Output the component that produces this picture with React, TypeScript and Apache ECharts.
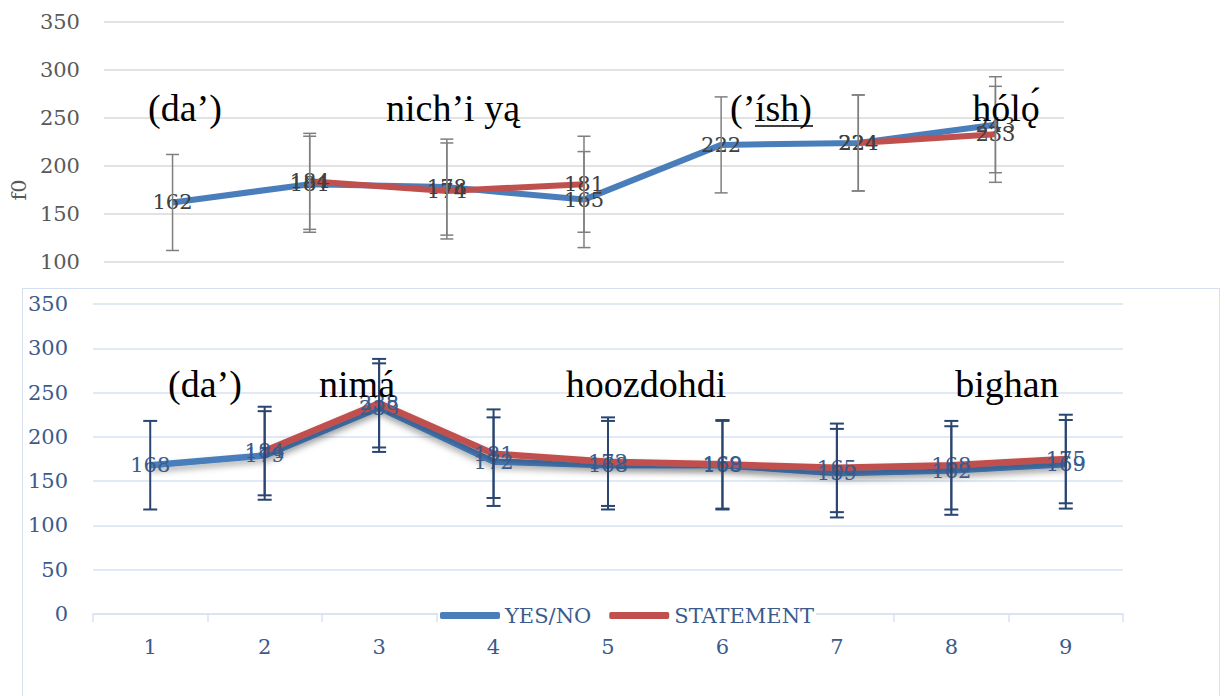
import React, { useEffect, useRef } from "react";
import * as echarts from "echarts";

// f0 means per syllable position, two intonation conditions
const upperPositions = ["1", "2", "3", "4", "5", "6", "7"];
const upperYesNo = [162, 181, 178, 165, 222, 224, 243];
const upperStatement = [null, 184, 174, 181, null, 224, 233];

const lowerPositions = ["1", "2", "3", "4", "5", "6", "7", "8", "9"];
const lowerYesNo = [168, 179, 233, 172, 168, 168, 159, 162, 169];
const lowerStatement = [null, 184, 238, 181, 172, 169, 165, 168, 175];

// fixed ± error bar size (Hz)
const ERROR_MARGIN = 50;

const yTicks = { min: 0, max: 350, interval: 50 };
const seriesNames = ["YES/NO", "STATEMENT"];

// Navajo words written over each contour
const upperWords = ["(da’)", "nich’i yą", "(’", "ísh)", "hólǫ́"];
const lowerWords = ["(da’)", "nimá", "hoozdohdi", "bighan"];

const BLUE = "#4a7ebb";
const RED = "#c0504d";
const LABEL_FONT = '"DejaVu Serif", "Liberation Serif", serif';
const WORD_FONT = '"Liberation Serif", "Times New Roman", serif';
const LABEL_SIZE = 21;

function errorBars(name: string, values: (number | null)[], color: string, capHalf: number, width: number) {
  const points: number[][] = [];
  values.forEach((v, i) => {
    if (v != null) points.push([i, v]);
  });
  return {
    name,
    type: "custom",
    z: 3,
    silent: true,
    data: points,
    encode: { x: 0, y: 1 },
    renderItem: (_params: any, api: any) => {
      const i = api.value(0);
      const v = api.value(1);
      const hi = api.coord([i, v + ERROR_MARGIN]);
      const lo = api.coord([i, v - ERROR_MARGIN]);
      const style = { stroke: color, lineWidth: width };
      return {
        type: "group",
        children: [
          { type: "line", shape: { x1: hi[0], y1: hi[1], x2: lo[0], y2: lo[1] }, style },
          { type: "line", shape: { x1: hi[0] - capHalf, y1: hi[1], x2: hi[0] + capHalf, y2: hi[1] }, style },
          { type: "line", shape: { x1: lo[0] - capHalf, y1: lo[1], x2: lo[0] + capHalf, y2: lo[1] }, style },
        ],
      };
    },
  };
}

function lineSeries(name: string, values: (number | null)[], color: string, width: number, labelColor: string, shadow: boolean) {
  return {
    name,
    type: "line",
    z: 2,
    data: values,
    connectNulls: false,
    symbol: "circle",
    symbolSize: 0,
    showSymbol: true,
    itemStyle: { color },
    lineStyle: shadow
      ? { color, width, shadowColor: "rgba(0,0,0,0.3)", shadowBlur: 6, shadowOffsetY: 4 }
      : { color, width },
    label: {
      show: true,
      position: "inside",
      color: labelColor,
      fontFamily: LABEL_FONT,
      fontSize: LABEL_SIZE,
    },
    emphasis: { disabled: true },
  };
}

function wordText(text: string, x: number, y: number, align: string = "center") {
  return {
    type: "text",
    x,
    y,
    z: 10,
    silent: true,
    style: {
      text,
      fill: "#000000",
      font: `38px ${WORD_FONT}`,
      align,
      verticalAlign: "middle",
    },
  };
}

function upperOption() {
  const gray = "#595959";
  return {
    animation: false,
    backgroundColor: "#ffffff",
    grid: { left: 86, top: 22, width: 978, height: 336 },
    xAxis: {
      type: "category",
      data: upperPositions,
      boundaryGap: true,
      axisLine: { lineStyle: { color: "#d9d9d9" } },
      axisTick: { show: false },
      axisLabel: { show: false },
    },
    yAxis: {
      type: "value",
      ...yTicks,
      name: "f0",
      nameLocation: "middle",
      nameGap: 62,
      nameRotate: 90,
      nameTextStyle: { color: gray, fontFamily: LABEL_FONT, fontSize: LABEL_SIZE },
      axisLine: { show: false },
      axisTick: { show: false },
      axisLabel: { color: gray, fontFamily: LABEL_FONT, fontSize: LABEL_SIZE, margin: 24 },
      splitLine: { lineStyle: { color: "#d9d9d9", width: 1.5 } },
    },
    series: [
      lineSeries(seriesNames[0], upperYesNo, BLUE, 6, "#404040", false),
      lineSeries(seriesNames[1], upperStatement, RED, 6, "#404040", false),
      errorBars("YES/NO error", upperYesNo, "#7f7f7f", 6.5, 1.5),
      errorBars("STATEMENT error", upperStatement, "#7f7f7f", 6.5, 1.5),
    ],
    graphic: [
      wordText(upperWords[0], 185, 108),
      wordText(upperWords[1], 453, 108),
      wordText(upperWords[2], 730, 108, "left"),
      wordText(upperWords[3], 755, 108, "left"),
      {
        type: "line",
        z: 10,
        silent: true,
        shape: { x1: 755, y1: 126, x2: 813, y2: 126 },
        style: { stroke: "#000000", lineWidth: 1.6 },
      },
      wordText(upperWords[4], 1006, 108),
    ],
  };
}

function lowerOption() {
  const textBlue = "#3b5b8c";
  const gridBlue = "#d9e2f3";
  return {
    animation: false,
    backgroundColor: "#ffffff",
    grid: { left: 70, top: 15, width: 1030, height: 310 },
    legend: {
      data: seriesNames,
      left: 415,
      top: 315,
      padding: [1, 2],
      itemGap: 18,
      itemWidth: 60,
      itemHeight: 7,
      icon: "roundRect",
      backgroundColor: "#ffffff",
      textStyle: { color: textBlue, fontFamily: LABEL_FONT, fontSize: LABEL_SIZE },
      selectedMode: false,
    },
    xAxis: {
      type: "category",
      data: lowerPositions,
      boundaryGap: true,
      axisLine: { lineStyle: { color: gridBlue, width: 1.5 } },
      axisTick: { show: true, length: 8, lineStyle: { color: gridBlue, width: 1.5 } },
      axisLabel: { color: textBlue, fontFamily: LABEL_FONT, fontSize: LABEL_SIZE, margin: 22 },
    },
    yAxis: {
      type: "value",
      ...yTicks,
      axisLine: { show: false },
      axisTick: { show: false },
      axisLabel: { color: textBlue, fontFamily: LABEL_FONT, fontSize: LABEL_SIZE, margin: 25 },
      splitLine: { lineStyle: { color: gridBlue, width: 1.5 } },
    },
    series: [
      lineSeries(seriesNames[0], lowerYesNo, BLUE, 6.5, textBlue, true),
      lineSeries(seriesNames[1], lowerStatement, RED, 6.5, textBlue, true),
      errorBars("YES/NO error", lowerYesNo, "#2a4570", 7, 2),
      errorBars("STATEMENT error", lowerStatement, "#2a4570", 7, 2),
    ],
    graphic: [
      wordText(lowerWords[0], 182, 95),
      wordText(lowerWords[1], 334, 95),
      wordText(lowerWords[2], 623, 95),
      wordText(lowerWords[3], 984, 95),
    ],
  };
}

function Chart({ option, style }: { option: any; style: React.CSSProperties }) {
  const ref = useRef<HTMLDivElement>(null);
  useEffect(() => {
    if (!ref.current) return;
    const chart = echarts.init(ref.current, undefined, { renderer: "svg" });
    chart.setOption(option);
    return () => chart.dispose();
  }, [option]);
  return <div ref={ref} style={style} />;
}

const upper = upperOption();
const lower = lowerOption();

export default function App() {
  return (
    <div
      style={{
        position: "fixed",
        left: 0,
        top: 0,
        width: 1225,
        height: 696,
        overflow: "hidden",
        background: "#ffffff",
      }}
    >
      <Chart option={upper} style={{ position: "absolute", left: 0, top: 0, width: 1225, height: 430 }} />
      <div
        style={{
          position: "absolute",
          left: 22,
          top: 288,
          width: 1196,
          height: 440,
          border: "1px solid #d6e0f1",
          background: "#ffffff",
        }}
      >
        <Chart option={lower} style={{ width: 1196, height: 440 }} />
      </div>
    </div>
  );
}
